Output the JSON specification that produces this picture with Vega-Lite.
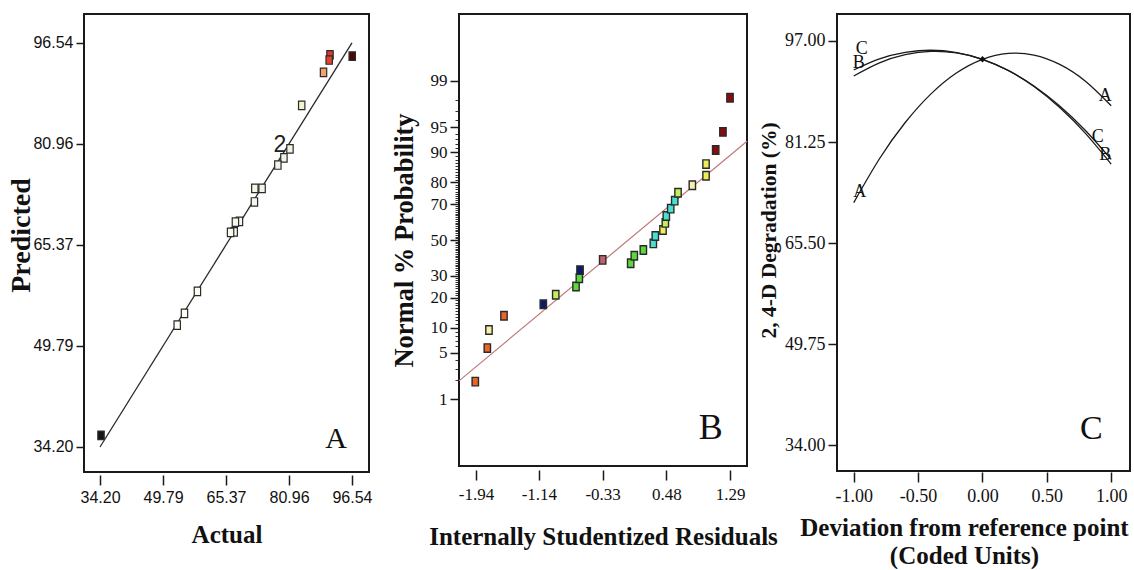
{
  "$schema": "https://vega.github.io/schema/vega-lite/v6.json",
  "padding": {"left": 6, "top": 13, "right": 0, "bottom": 0},
  "background": "white",
  "config": {
    "view": {"stroke": "#1a1a1a", "strokeWidth": 2},
    "axis": {"grid": false, "domain": false, "tickColor": "#1a1a1a", "tickWidth": 1.5, "labelColor": "#111111", "titleColor": "#111111"}
  },
  "datasets": {
    "parity": [
      {"actual": 96.6, "predicted": 94.5},
      {"actual": 91.1, "predicted": 94.7},
      {"actual": 90.9, "predicted": 93.9},
      {"actual": 89.5, "predicted": 92.0},
      {"actual": 84.1, "predicted": 86.9},
      {"actual": 81.2, "predicted": 80.2},
      {"actual": 79.7, "predicted": 78.8},
      {"actual": 78.2, "predicted": 77.7},
      {"actual": 74.3, "predicted": 74.1},
      {"actual": 72.5, "predicted": 74.1},
      {"actual": 72.4, "predicted": 72.0},
      {"actual": 68.7, "predicted": 69.0},
      {"actual": 67.7, "predicted": 68.9},
      {"actual": 67.4, "predicted": 67.4},
      {"actual": 66.5, "predicted": 67.3},
      {"actual": 58.3, "predicted": 58.2},
      {"actual": 55.1, "predicted": 54.8},
      {"actual": 53.3, "predicted": 53.0},
      {"actual": 34.45, "predicted": 36.0}
    ],
    "parity_fit": [
      {"actual": 34.2, "predicted": 34.2},
      {"actual": 96.54, "predicted": 96.54}
    ],
    "residuals": [
      {"residual": -1.949, "normal_quantile": -2.07, "level": 7},
      {"residual": -1.796, "normal_quantile": -1.58, "level": 7},
      {"residual": -1.775, "normal_quantile": -1.316, "level": 5},
      {"residual": -1.584, "normal_quantile": -1.107, "level": 7},
      {"residual": -1.084, "normal_quantile": -0.94, "level": 1},
      {"residual": -0.926, "normal_quantile": -0.8, "level": 4},
      {"residual": -0.668, "normal_quantile": -0.68, "level": 3},
      {"residual": -0.626, "normal_quantile": -0.56, "level": 3},
      {"residual": -0.617, "normal_quantile": -0.44, "level": 1},
      {"residual": -0.329, "normal_quantile": -0.29, "level": 8},
      {"residual": 0.027, "normal_quantile": -0.34, "level": 3},
      {"residual": 0.073, "normal_quantile": -0.23, "level": 3},
      {"residual": 0.188, "normal_quantile": -0.146, "level": 3},
      {"residual": 0.315, "normal_quantile": -0.049, "level": 2},
      {"residual": 0.34, "normal_quantile": 0.058, "level": 2},
      {"residual": 0.438, "normal_quantile": 0.146, "level": 6},
      {"residual": 0.468, "normal_quantile": 0.25, "level": 4},
      {"residual": 0.48, "normal_quantile": 0.35, "level": 2},
      {"residual": 0.536, "normal_quantile": 0.458, "level": 2},
      {"residual": 0.587, "normal_quantile": 0.575, "level": 2},
      {"residual": 0.629, "normal_quantile": 0.69, "level": 4},
      {"residual": 0.811, "normal_quantile": 0.8, "level": 5},
      {"residual": 0.985, "normal_quantile": 0.94, "level": 6},
      {"residual": 0.985, "normal_quantile": 1.11, "level": 6},
      {"residual": 1.108, "normal_quantile": 1.316, "level": 9},
      {"residual": 1.2, "normal_quantile": 1.58, "level": 9},
      {"residual": 1.29, "normal_quantile": 2.08, "level": 9}
    ],
    "residual_line": [
      {"residual": -2.156, "normal_quantile": -2.059},
      {"residual": 1.506, "normal_quantile": 1.443}
    ],
    "perturbation": [
      {"factor": "A", "deviation": -1.0, "degradation": 71.8},
      {"factor": "A", "deviation": -0.8, "degradation": 78.64},
      {"factor": "A", "deviation": -0.6, "degradation": 84.29},
      {"factor": "A", "deviation": -0.4, "degradation": 88.76},
      {"factor": "A", "deviation": -0.2, "degradation": 92.05},
      {"factor": "A", "deviation": 0.0, "degradation": 94.15},
      {"factor": "A", "deviation": 0.2, "degradation": 95.07},
      {"factor": "A", "deviation": 0.4, "degradation": 94.8},
      {"factor": "A", "deviation": 0.6, "degradation": 93.35},
      {"factor": "A", "deviation": 0.8, "degradation": 90.72},
      {"factor": "A", "deviation": 1.0, "degradation": 86.9},
      {"factor": "B", "deviation": -1.0, "degradation": 91.54},
      {"factor": "B", "deviation": -0.8, "degradation": 93.58},
      {"factor": "B", "deviation": -0.6, "degradation": 94.86},
      {"factor": "B", "deviation": -0.4, "degradation": 95.38},
      {"factor": "B", "deviation": -0.2, "degradation": 95.15},
      {"factor": "B", "deviation": 0.0, "degradation": 94.15},
      {"factor": "B", "deviation": 0.2, "degradation": 92.4},
      {"factor": "B", "deviation": 0.4, "degradation": 89.89},
      {"factor": "B", "deviation": 0.6, "degradation": 86.62},
      {"factor": "B", "deviation": 0.8, "degradation": 82.59},
      {"factor": "B", "deviation": 1.0, "degradation": 77.8},
      {"factor": "C", "deviation": -1.0, "degradation": 92.48},
      {"factor": "C", "deviation": -0.8, "degradation": 94.2},
      {"factor": "C", "deviation": -0.6, "degradation": 95.22},
      {"factor": "C", "deviation": -0.4, "degradation": 95.56},
      {"factor": "C", "deviation": -0.2, "degradation": 95.2},
      {"factor": "C", "deviation": 0.0, "degradation": 94.15},
      {"factor": "C", "deviation": 0.2, "degradation": 92.41},
      {"factor": "C", "deviation": 0.4, "degradation": 89.98},
      {"factor": "C", "deviation": 0.6, "degradation": 86.86},
      {"factor": "C", "deviation": 0.8, "degradation": 83.04},
      {"factor": "C", "deviation": 1.0, "degradation": 78.54}
    ],
    "curve_labels": [
      {"factor": "A", "deviation": -0.954, "degradation": 73.5},
      {"factor": "A", "deviation": 0.954, "degradation": 88.42},
      {"factor": "B", "deviation": -0.962, "degradation": 93.57},
      {"factor": "C", "deviation": -0.938, "degradation": 95.75},
      {"factor": "C", "deviation": 0.895, "degradation": 82.03},
      {"factor": "B", "deviation": 0.954, "degradation": 79.22}
    ],
    "reference_point": [
      {"deviation": 0.0, "degradation": 94.15}
    ]
  },
  "spacing": 90,
  "bounds": "flush",
  "hconcat": [
    {
      "width": 285,
      "height": 458,
      "layer": [
        {
          "data": {"name": "parity_fit"},
          "mark": {"type": "line", "color": "#2a2a2a", "strokeWidth": 1.3},
          "encoding": {
            "x": {
              "field": "actual", "type": "quantitative",
              "scale": {"domain": [30.24, 100.75], "nice": false, "zero": false},
              "axis": {
                "title": "Actual", "values": [34.2, 49.79, 65.37, 80.96, 96.54], "format": ".2f",
                "labelFont": "Liberation Sans", "labelFontSize": 16,
                "tickSize": 10, "offset": 3, "labelPadding": 4,
                "titleFont": "Liberation Serif", "titleFontSize": 25, "titleFontWeight": "bold", "titlePadding": 17
              }
            },
            "y": {
              "field": "predicted", "type": "quantitative",
              "scale": {"domain": [30.34, 101.0], "nice": false, "zero": false},
              "axis": {
                "title": "Predicted", "values": [34.2, 49.79, 65.37, 80.96, 96.54], "format": ".2f",
                "labelFont": "Liberation Sans", "labelFontSize": 16,
                "tickSize": 8, "labelPadding": 3,
                "titleFont": "Liberation Serif", "titleFontSize": 28, "titleFontWeight": "bold",
                "titleBaseline": "alphabetic", "titlePadding": 3, "titleY": 221
              }
            }
          }
        },
        {
          "data": {"name": "parity"},
          "mark": {"type": "point", "shape": "M-0.75,-1H0.75V1H-0.75Z", "filled": true, "size": 72, "stroke": "#2a2a2a", "strokeWidth": 1.2, "opacity": 1},
          "encoding": {
            "x": {"field": "actual", "type": "quantitative"},
            "y": {"field": "predicted", "type": "quantitative"},
            "fill": {
              "field": "actual", "type": "quantitative",
              "scale": {"domain": [34, 52, 80, 85, 89.5, 91.0, 96.6], "range": ["#111111", "#ffffff", "#eef5e8", "#f7f2c8", "#f3a070", "#e03a2a", "#4a0808"]},
              "legend": null
            }
          }
        },
        {
          "data": {"values": [{}]},
          "mark": {"type": "text", "text": "2", "font": "Liberation Sans", "fontSize": 23, "baseline": "alphabetic", "color": "#222222"},
          "encoding": {"x": {"datum": 78.7, "type": "quantitative"}, "y": {"datum": 79.7, "type": "quantitative"}}
        },
        {
          "data": {"values": [{}]},
          "mark": {"type": "text", "text": "A", "font": "Liberation Serif", "fontSize": 30, "baseline": "alphabetic", "color": "#111111"},
          "encoding": {"x": {"datum": 92.6, "type": "quantitative"}, "y": {"datum": 34.05, "type": "quantitative"}}
        }
      ]
    },
    {
      "width": 288,
      "height": 452,
      "resolve": {"scale": {"y": "independent"}, "axis": {"y": "independent"}},
      "layer": [
        {
          "data": {"name": "residual_line"},
          "mark": {"type": "line", "color": "#c07878", "strokeWidth": 1.2},
          "encoding": {
            "x": {
              "field": "residual", "type": "quantitative",
              "scale": {"domain": [-2.156, 1.506], "nice": false, "zero": false},
              "axis": {
                "title": "Internally Studentized Residuals", "values": [-1.94, -1.14, -0.33, 0.48, 1.29], "format": ".2f",
                "labelExpr": "replace(datum.label, '−', '-')",
                "labelFont": "Liberation Serif", "labelFontSize": 17,
                "tickSize": 10, "offset": 4, "labelPadding": 6,
                "titleFont": "Liberation Serif", "titleFontSize": 25, "titleFontWeight": "bold", "titlePadding": 22
              }
            },
            "y": {
              "field": "normal_quantile", "type": "quantitative",
              "scale": {"domain": [-3.304, 3.304], "nice": false, "zero": false},
              "axis": {
                "orient": "left", "title": null, "labels": false, "tickSize": 4, "tickWidth": 0.9,
                "values": [-2.3263,-2.0537,-1.8808,-1.7507,-1.6449,-1.5548,-1.4758,-1.4051,-1.3408,-1.2816,-1.2265,-1.175,-1.1264,-1.0803,-1.0364,-0.9945,-0.9542,-0.9154,-0.8779,-0.8416,-0.8064,-0.7722,-0.7388,-0.7063,-0.6745,-0.6433,-0.6128,-0.5828,-0.5534,-0.5244,-0.4959,-0.4677,-0.4399,-0.4125,-0.3853,-0.3585,-0.3319,-0.3055,-0.2793,-0.2533,-0.2275,-0.2019,-0.1764,-0.151,-0.1257,-0.1004,-0.0753,-0.0502,-0.0251,0,0.0251,0.0502,0.0753,0.1004,0.1257,0.151,0.1764,0.2019,0.2275,0.2533,0.2793,0.3055,0.3319,0.3585,0.3853,0.4125,0.4399,0.4677,0.4959,0.5244,0.5534,0.5828,0.6128,0.6433,0.6745,0.7063,0.7388,0.7722,0.8064,0.8416,0.8779,0.9154,0.9542,0.9945,1.0364,1.0803,1.1264,1.175,1.2265,1.2816,1.3408,1.4051,1.4758,1.5548,1.6449,1.7507,1.8808,2.0537,2.3263]
              }
            }
          }
        },
        {
          "data": {"name": "residuals"},
          "mark": {"type": "point", "shape": "M-0.75,-1H0.75V1H-0.75Z", "filled": true, "size": 72, "stroke": "#2a2a2a", "strokeWidth": 1.4, "opacity": 1},
          "encoding": {
            "x": {"field": "residual", "type": "quantitative"},
            "y": {
              "field": "normal_quantile", "type": "quantitative",
              "scale": {"domain": [-3.304, 3.304], "nice": false, "zero": false},
              "axis": {
                "orient": "left", "title": "Normal % Probability",
                "values": [-2.3263, -1.6449, -1.2816, -0.8416, -0.5244, 0, 0.5244, 0.8416, 1.2816, 1.6449, 2.3263],
                "labelExpr": "datum.value < -2 ? '1' : datum.value < -1.5 ? '5' : datum.value < -1 ? '10' : datum.value < -0.7 ? '20' : datum.value < -0.3 ? '30' : datum.value < 0.3 ? '50' : datum.value < 0.7 ? '70' : datum.value < 1 ? '80' : datum.value < 1.5 ? '90' : datum.value < 2 ? '95' : '99'",
                "labelOverlap": false,
                "labelFont": "Liberation Serif", "labelFontSize": 17,
                "tickSize": 9, "labelPadding": 3,
                "titleFont": "Liberation Serif", "titleFontSize": 26.5, "titleFontWeight": "bold", "titlePadding": 12
              }
            },
            "fill": {
              "field": "level", "type": "ordinal",
              "scale": {"domain": [1, 2, 3, 4, 5, 6, 7, 8, 9], "range": ["#0b1a6e", "#48e0d0", "#5ad83c", "#c4ef5a", "#f6f0a8", "#eeee58", "#ec6428", "#c2606e", "#8c0a0a"]},
              "legend": null
            }
          }
        },
        {
          "data": {"values": [{}]},
          "mark": {"type": "text", "text": "B", "font": "Liberation Serif", "fontSize": 36, "baseline": "alphabetic", "color": "#111111"},
          "encoding": {
            "x": {"datum": 1.045, "type": "quantitative"},
            "y": {"datum": -2.91, "type": "quantitative", "scale": {"domain": [-3.304, 3.304], "nice": false, "zero": false}, "axis": null}
          }
        }
      ]
    },
    {
      "width": 293,
      "height": 457,
      "layer": [
        {
          "data": {"name": "perturbation"},
          "mark": {"type": "line", "color": "#1a1a1a", "strokeWidth": 1.3, "interpolate": "natural"},
          "encoding": {
            "x": {
              "field": "deviation", "type": "quantitative",
              "scale": {"domain": [-1.13, 1.146], "nice": false, "zero": false},
              "axis": {
                "title": ["Deviation from reference point", "(Coded Units)"], "values": [-1, -0.5, 0, 0.5, 1], "format": ".2f",
                "labelExpr": "replace(datum.label, '−', '-')",
                "labelFont": "Liberation Serif", "labelFontSize": 18,
                "tickSize": 10, "offset": 1, "labelPadding": 5,
                "titleFont": "Liberation Serif", "titleFontSize": 25, "titleFontWeight": "bold", "titlePadding": 10, "titleLineHeight": 28,
                "titleX": 127, "titleAlign": "center"
              }
            },
            "y": {
              "field": "degradation", "type": "quantitative",
              "scale": {"domain": [29.95, 101.21], "nice": false, "zero": false},
              "axis": {
                "title": "2, 4-D Degradation (%)", "values": [34, 49.75, 65.5, 81.25, 97], "format": ".2f",
                "labelFont": "Liberation Serif", "labelFontSize": 18,
                "tickSize": 9, "labelPadding": 3,
                "titleFont": "Liberation Serif", "titleFontSize": 21.5, "titleFontWeight": "bold", "titlePadding": 4, "titleY": 216
              }
            },
            "detail": {"field": "factor", "type": "nominal"}
          }
        },
        {
          "data": {"name": "curve_labels"},
          "mark": {"type": "text", "font": "Liberation Serif", "fontSize": 18, "color": "#111111"},
          "encoding": {
            "x": {"field": "deviation", "type": "quantitative"},
            "y": {"field": "degradation", "type": "quantitative"},
            "text": {"field": "factor", "type": "nominal"}
          }
        },
        {
          "data": {"name": "reference_point"},
          "mark": {"type": "point", "shape": "diamond", "filled": true, "size": 40, "color": "#111111", "opacity": 1},
          "encoding": {
            "x": {"field": "deviation", "type": "quantitative"},
            "y": {"field": "degradation", "type": "quantitative"}
          }
        },
        {
          "data": {"values": [{}]},
          "mark": {"type": "text", "text": "C", "font": "Liberation Serif", "fontSize": 34, "baseline": "alphabetic", "color": "#111111"},
          "encoding": {"x": {"datum": 0.846, "type": "quantitative"}, "y": {"datum": 34.9, "type": "quantitative"}}
        }
      ]
    }
  ]
}
